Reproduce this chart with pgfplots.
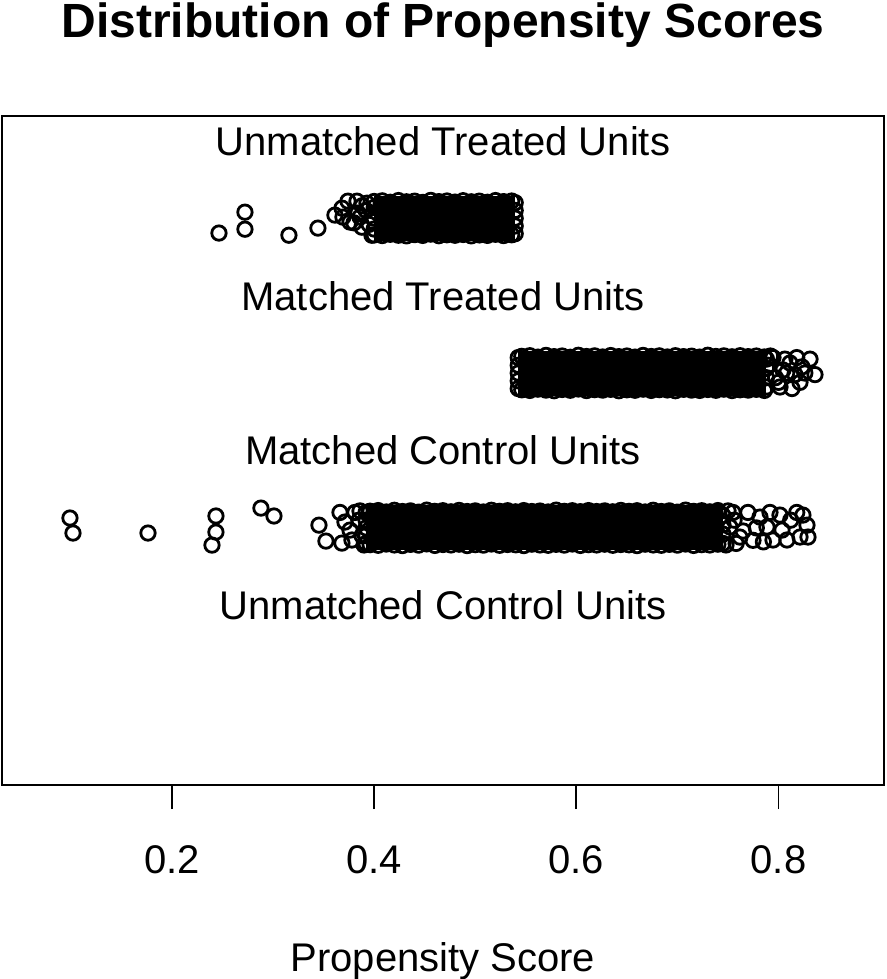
\documentclass[border=0pt]{standalone}
\usepackage{fontspec}
\setmainfont{Liberation Sans}
\usepackage{pgfplots}
\usepackage{pgfplotstable}
\pgfplotsset{compat=1.18}

% edge rows of the dense blocks: x, upper jitter, lower jitter
\pgfplotstableread{
x top bot
0.400 3.608 3.392
0.408 3.612 3.388
0.416 3.603 3.396
0.424 3.614 3.390
0.432 3.606 3.386
0.440 3.610 3.394
0.448 3.602 3.389
0.456 3.615 3.397
0.464 3.607 3.387
0.472 3.611 3.393
0.480 3.604 3.390
0.488 3.613 3.395
0.496 3.606 3.386
0.504 3.610 3.392
0.512 3.603 3.389
0.520 3.614 3.396
0.528 3.607 3.388
0.536 3.611 3.393
}\edgeUT

\pgfplotstableread{
x top bot
0.546 2.608 2.392
0.554 2.612 2.388
0.562 2.603 2.396
0.570 2.614 2.390
0.578 2.606 2.386
0.586 2.610 2.394
0.594 2.602 2.389
0.602 2.615 2.397
0.610 2.607 2.387
0.618 2.611 2.393
0.626 2.604 2.390
0.634 2.613 2.395
0.642 2.606 2.386
0.650 2.610 2.392
0.658 2.603 2.389
0.666 2.614 2.396
0.674 2.607 2.388
0.682 2.611 2.393
0.690 2.604 2.391
0.698 2.612 2.386
0.706 2.606 2.395
0.714 2.609 2.390
0.722 2.603 2.388
0.730 2.615 2.394
0.738 2.607 2.389
0.746 2.611 2.396
0.754 2.605 2.387
0.762 2.612 2.392
0.770 2.606 2.390
0.778 2.610 2.395
0.786 2.604 2.388
}\edgeMT

\pgfplotstableread{
x top bot
0.396 1.608 1.392
0.404 1.612 1.388
0.412 1.603 1.396
0.420 1.614 1.390
0.428 1.606 1.386
0.436 1.610 1.394
0.444 1.602 1.389
0.452 1.615 1.397
0.460 1.607 1.387
0.468 1.611 1.393
0.476 1.604 1.390
0.484 1.613 1.395
0.492 1.606 1.386
0.500 1.610 1.392
0.508 1.603 1.389
0.516 1.614 1.396
0.524 1.607 1.388
0.532 1.611 1.393
0.540 1.604 1.391
0.548 1.612 1.386
0.556 1.606 1.395
0.564 1.609 1.390
0.572 1.603 1.388
0.580 1.615 1.394
0.588 1.607 1.389
0.596 1.611 1.396
0.604 1.605 1.387
0.612 1.612 1.392
0.620 1.606 1.390
0.628 1.610 1.395
0.636 1.604 1.388
0.644 1.613 1.393
0.652 1.607 1.391
0.660 1.611 1.386
0.668 1.603 1.395
0.676 1.614 1.390
0.684 1.606 1.388
0.692 1.610 1.394
0.700 1.602 1.389
0.708 1.615 1.396
0.716 1.607 1.387
0.724 1.611 1.392
0.732 1.604 1.390
0.740 1.612 1.395
}\edgeMC

\pgfplotsset{
  pt/.style={only marks, mark=o, mark size=7.2pt, black, line width=2.8pt,
    mark options={line width=2.8pt, draw=black}},
  blk/.style={fill=black, draw=none, mark=none},
}

\begin{document}
\begin{tikzpicture}
\useasboundingbox (-2pt,-194pt) rectangle (884pt,785pt);
\begin{axis}[
  scale only axis,
  width=882pt, height=669pt,
  xmin=0.0319, xmax=0.9043,
  ymin=-0.16, ymax=4.16,
  axis line style={line width=1.8pt},
  xtick={0.2,0.4,0.6,0.8},
  xticklabels={0.2,0.4,0.6,0.8},
  ytick=\empty,
  xtick pos=bottom,
  tick align=outside,
  major tick length=24pt,
  every tick/.style={black, line width=1.8pt},
  xticklabel style={font=\fontsize{40}{48}\selectfont, anchor=base, yshift=-64pt},
  every axis title/.style={at={(axis description cs:0.5,1)}, anchor=base, yshift=78pt,
    font=\bfseries\fontsize{48}{58}\selectfont},
  every axis x label/.style={at={(axis description cs:0.5,0)}, anchor=base, yshift=-186pt,
    font=\fontsize{40}{48}\selectfont},
  title={Distribution of Propensity Scores},
  xlabel={Propensity Score},
]

% solid cores of the dense groups
\addplot[blk] coordinates {(0.400,3.355) (0.5395,3.355) (0.5395,3.645) (0.400,3.645)} -- cycle;
\addplot[blk] coordinates {(0.5425,2.355) (0.788,2.355) (0.788,2.645) (0.5425,2.645)} -- cycle;
\addplot[blk] coordinates {(0.392,1.355) (0.745,1.355) (0.745,1.645) (0.392,1.645)} -- cycle;

% edge rows
\addplot[pt] table[x=x, y=top] {\edgeUT};
\addplot[pt] table[x=x, y=bot] {\edgeUT};
\addplot[pt] table[x=x, y=top] {\edgeMT};
\addplot[pt] table[x=x, y=bot] {\edgeMT};
\addplot[pt] table[x=x, y=top] {\edgeMC};
\addplot[pt] table[x=x, y=bot] {\edgeMC};

% unmatched treated: ends and loose points
\addplot[pt] coordinates {
  (0.400,3.43) (0.400,3.50) (0.400,3.57)
  (0.5395,3.40) (0.5395,3.45) (0.5395,3.50) (0.5395,3.55) (0.5395,3.60)
  (0.2465,3.404) (0.2722,3.539) (0.2722,3.429) (0.3157,3.390) (0.3444,3.436)
  (0.3612,3.520) (0.3682,3.565) (0.3741,3.610) (0.3691,3.507) (0.3761,3.475)
  (0.3840,3.533) (0.3879,3.442) (0.3830,3.610) (0.3978,3.390) (0.3929,3.597)
  (0.3860,3.507) (0.3920,3.550) (0.3950,3.460) (0.3880,3.580) (0.3800,3.470)
};

% matched treated: ends and loose points
\addplot[pt] coordinates {
  (0.5425,2.40) (0.5425,2.45) (0.5425,2.50) (0.5425,2.55) (0.5425,2.60)
  (0.788,2.41) (0.788,2.47) (0.788,2.53) (0.788,2.59)
  (0.7945,2.600) (0.8044,2.520) (0.8133,2.400) (0.8231,2.540) (0.8311,2.590)
  (0.8360,2.490) (0.8212,2.440) (0.8113,2.565) (0.8014,2.410) (0.8162,2.490)
  (0.8063,2.590) (0.7970,2.470) (0.7900,2.550) (0.8000,2.440) (0.8080,2.500)
  (0.7920,2.610) (0.8260,2.500) (0.8180,2.600)
};

% matched control: ends and loose points
\addplot[pt] coordinates {
  (0.392,1.40) (0.392,1.45) (0.392,1.50) (0.392,1.55) (0.392,1.60)
  (0.745,1.40) (0.745,1.46) (0.745,1.52) (0.745,1.58)
  (0.0991,1.564) (0.1021,1.467) (0.1763,1.467) (0.2435,1.577) (0.2435,1.473)
  (0.2396,1.389) (0.2880,1.628) (0.3009,1.577)
  (0.3454,1.518) (0.3523,1.415) (0.3662,1.600) (0.3711,1.538) (0.3681,1.402)
  (0.3761,1.486) (0.3810,1.600) (0.3780,1.422) (0.3850,1.550) (0.3880,1.450)
  (0.3900,1.390) (0.3860,1.610)
  (0.7697,1.600) (0.7747,1.420) (0.7915,1.600) (0.8014,1.583) (0.8034,1.486)
  (0.8083,1.422) (0.8241,1.583) (0.8281,1.518) (0.8291,1.441) (0.8212,1.441)
  (0.7885,1.506) (0.7816,1.570) (0.7945,1.422) (0.7549,1.600) (0.7618,1.441)
  (0.7519,1.506) (0.7480,1.390) (0.7560,1.550) (0.7650,1.480) (0.7780,1.500)
  (0.7850,1.410) (0.8120,1.550) (0.8180,1.600) (0.7500,1.610) (0.7580,1.400)
};

% group labels
\node[anchor=base, yshift=-14.5pt, font=\fontsize{40}{48}\selectfont] at (axis cs:0.4681,4) {Unmatched Treated Units};
\node[anchor=base, yshift=-14.5pt, font=\fontsize{40}{48}\selectfont] at (axis cs:0.4681,3) {Matched Treated Units};
\node[anchor=base, yshift=-14.5pt, font=\fontsize{40}{48}\selectfont] at (axis cs:0.4681,2) {Matched Control Units};
\node[anchor=base, yshift=-14.5pt, font=\fontsize{40}{48}\selectfont] at (axis cs:0.4681,1) {Unmatched Control Units};
\end{axis}
\end{tikzpicture}
\end{document}
